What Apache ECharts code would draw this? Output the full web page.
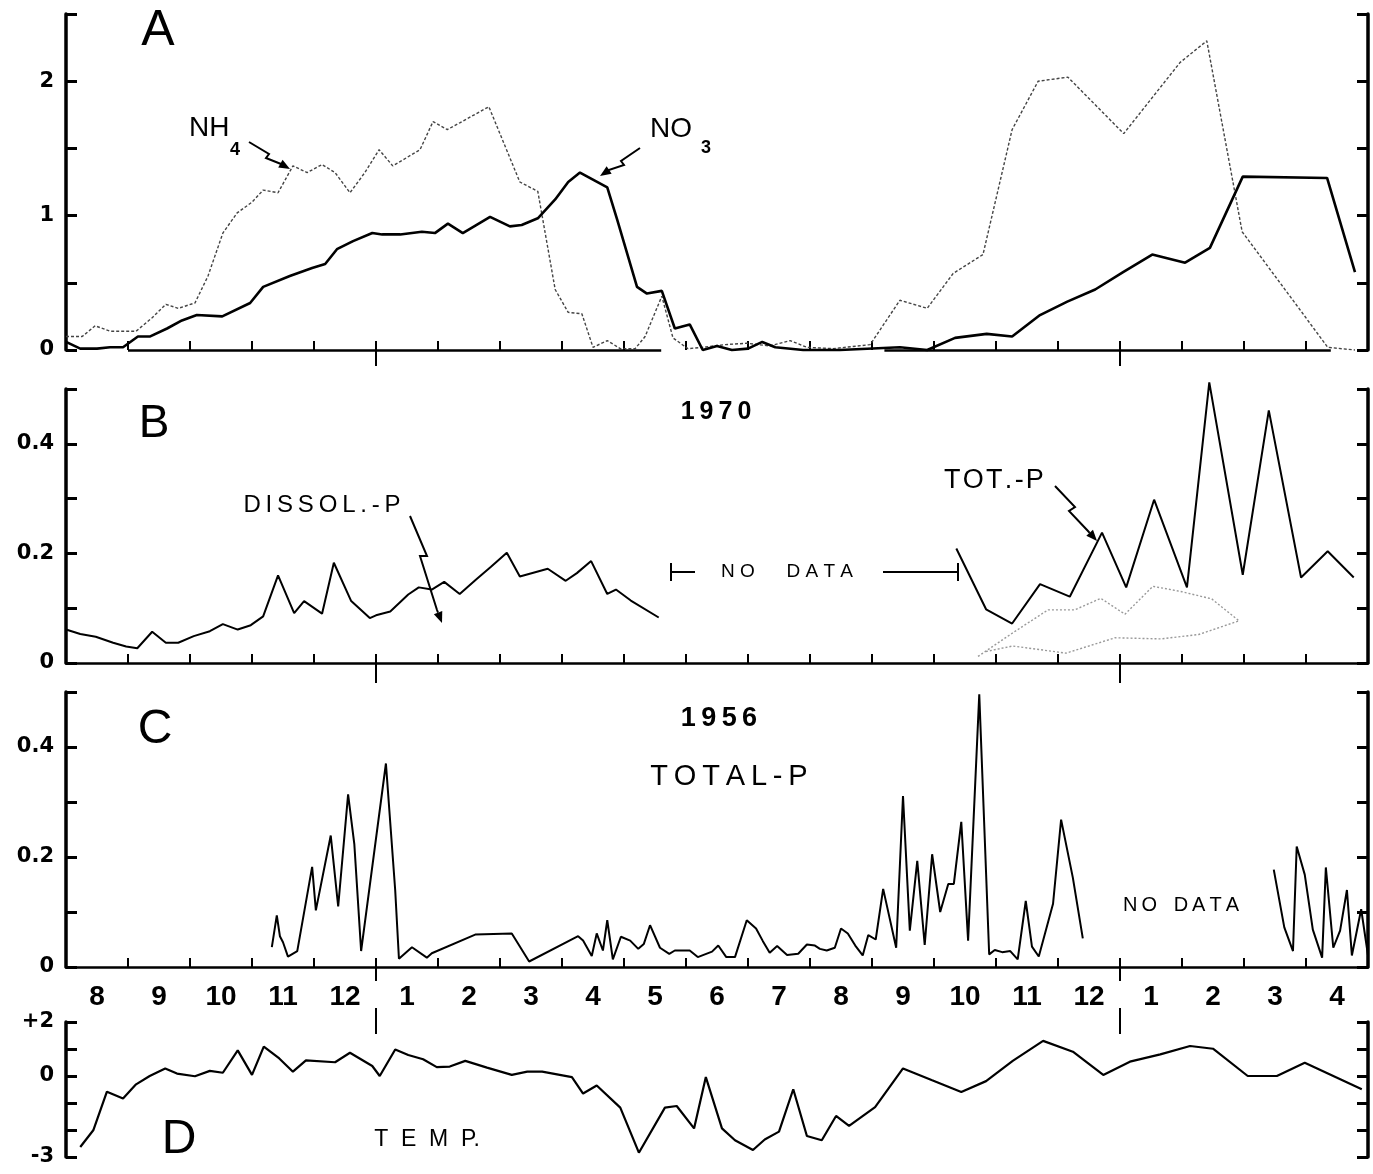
<!DOCTYPE html>
<html>
<head>
<meta charset="utf-8">
<script src="https://cdn.jsdelivr.net/npm/echarts@6/dist/echarts.min.js"></script>
<style>
  html, body { margin: 0; padding: 0; background: #fff; }
  #chart { width: 1373px; height: 1174px; }
</style>
</head>
<body>
<div id="chart"></div>
<script>
// x values are months counted from 1 Aug of the first year (0 .. 21)
const monthLabels = ['8', '9', '10', '11', '12', '1', '2', '3', '4', '5', '6', '7', '8', '9', '10', '11', '12', '1', '2', '3', '4']
const yearBreaks = [5, 17]

// A - NH4 and NO3
const nh4X = [0, 0.26, 0.47, 0.71, 1.13, 1.39, 1.61, 1.81, 2.08, 2.29, 2.53, 2.76, 3.00, 3.18, 3.42, 3.66, 3.89, 4.13, 4.34, 4.58, 4.82, 5.05, 5.27, 5.71, 5.92, 6.15, 6.35, 6.82, 7.32, 7.61, 7.89, 8.10, 8.32, 8.50, 8.73, 8.94, 9.18, 9.34, 9.61, 9.79, 10.03, 10.27, 10.63, 10.98, 11.35, 11.68, 11.95, 12.37, 12.97, 13.45, 13.89, 14.31, 14.79, 15.26, 15.68, 16.16, 17.06, 17.97, 18.40, 18.97, 19.87, 20.35, 20.79]
const nh4Y = [0.10, 0.10, 0.18, 0.14, 0.14, 0.24, 0.34, 0.31, 0.35, 0.55, 0.87, 1.02, 1.10, 1.19, 1.17, 1.37, 1.32, 1.38, 1.32, 1.17, 1.32, 1.49, 1.37, 1.49, 1.70, 1.64, 1.69, 1.81, 1.25, 1.18, 0.45, 0.28, 0.27, 0.02, 0.07, 0.01, 0.01, 0.10, 0.40, 0.09, 0.01, 0.02, 0.04, 0.05, 0.03, 0.07, 0.02, 0.01, 0.04, 0.37, 0.31, 0.57, 0.71, 1.64, 2.00, 2.03, 1.61, 2.14, 2.30, 0.88, 0.32, 0.02, 0.00]
const no3X = [0, 0.23, 0.50, 0.71, 0.92, 1.16, 1.35, 1.63, 1.87, 2.11, 2.52, 2.97, 3.18, 3.61, 3.97, 4.18, 4.37, 4.63, 4.94, 5.10, 5.39, 5.74, 5.95, 6.16, 6.40, 6.84, 7.16, 7.35, 7.61, 7.89, 8.10, 8.29, 8.73, 8.89, 9.21, 9.37, 9.61, 9.82, 10.06, 10.27, 10.50, 10.74, 11.00, 11.23, 11.44, 11.89, 12.48, 13.45, 13.89, 14.34, 14.85, 15.26, 15.71, 16.15, 16.60, 17.05, 17.52, 18.05, 18.45, 18.98, 20.34, 20.79]
const no3Y = [0.06, 0.01, 0.01, 0.02, 0.02, 0.10, 0.10, 0.16, 0.22, 0.26, 0.25, 0.35, 0.47, 0.55, 0.61, 0.64, 0.75, 0.81, 0.87, 0.86, 0.86, 0.88, 0.87, 0.94, 0.87, 0.99, 0.92, 0.93, 0.98, 1.12, 1.25, 1.32, 1.21, 0.97, 0.47, 0.42, 0.44, 0.16, 0.19, 0.00, 0.03, 0.00, 0.01, 0.06, 0.02, 0.00, 0.00, 0.02, 0.00, 0.09, 0.12, 0.10, 0.26, 0.36, 0.45, 0.58, 0.71, 0.65, 0.76, 1.29, 1.28, 0.58]
// stretches where the baseline of A is drawn
const aBaseSpans = [[1, 9.6], [13.2, 20.4]]

// B - 1970
const bTot1X = [0, 0.23, 0.48, 0.76, 0.97, 1.15, 1.39, 1.61, 1.81, 2.06, 2.32, 2.53, 2.77, 2.98, 3.18, 3.42, 3.68, 3.84, 4.13, 4.32, 4.60, 4.90, 5.00, 5.23, 5.52, 5.69, 5.90, 6.10, 6.35, 6.61, 6.85, 7.11, 7.32, 7.77, 8.06, 8.24, 8.47, 8.73, 8.87, 9.11, 9.56]
const bTot1Y = [0.061, 0.053, 0.048, 0.037, 0.030, 0.027, 0.057, 0.037, 0.037, 0.049, 0.058, 0.071, 0.061, 0.069, 0.085, 0.160, 0.091, 0.113, 0.090, 0.183, 0.113, 0.082, 0.087, 0.094, 0.125, 0.138, 0.134, 0.148, 0.126, 0.152, 0.175, 0.201, 0.158, 0.172, 0.150, 0.164, 0.186, 0.126, 0.134, 0.114, 0.083]
const bTot2X = [14.36, 14.84, 15.26, 15.71, 16.19, 16.71, 17.10, 17.55, 18.08, 18.44, 18.98, 19.40, 19.92, 20.35, 20.77]
const bTot2Y = [0.209, 0.098, 0.072, 0.144, 0.121, 0.238, 0.138, 0.298, 0.138, 0.512, 0.161, 0.461, 0.156, 0.204, 0.156]
const dissolX = [14.71, 15.27, 15.84, 16.27, 16.69, 17.08, 17.53, 18.00, 18.48, 18.92, 18.27, 17.66, 16.92, 16.13, 15.27, 14.84]
const dissolY = [0.012, 0.055, 0.097, 0.097, 0.118, 0.089, 0.140, 0.130, 0.117, 0.077, 0.052, 0.044, 0.046, 0.018, 0.031, 0.021]

// C - 1956 total P
const cTot1X = [3.32, 3.40, 3.45, 3.50, 3.58, 3.73, 3.97, 4.03, 4.27, 4.39, 4.55, 4.65, 4.76, 5.16, 5.31, 5.37, 5.58, 5.82, 5.90, 6.60, 7.19, 7.47, 8.26, 8.34, 8.48, 8.56, 8.66, 8.73, 8.82, 8.95, 9.10, 9.23, 9.32, 9.42, 9.58, 9.73, 9.82, 10.06, 10.19, 10.42, 10.52, 10.65, 10.79, 10.98, 11.13, 11.24, 11.35, 11.47, 11.63, 11.81, 11.95, 12.08, 12.16, 12.27, 12.40, 12.50, 12.61, 12.73, 12.85, 12.94, 13.06, 13.18, 13.39, 13.50, 13.61, 13.73, 13.85, 13.97, 14.10, 14.23, 14.32, 14.44, 14.55, 14.73, 14.89, 14.98, 15.10, 15.23, 15.35, 15.48, 15.58, 15.69, 15.92, 16.05, 16.24, 16.40]
const cTot1Y = [0.036, 0.094, 0.056, 0.045, 0.019, 0.029, 0.182, 0.103, 0.239, 0.11, 0.314, 0.224, 0.029, 0.37, 0.139, 0.015, 0.036, 0.017, 0.025, 0.059, 0.061, 0.010, 0.056, 0.048, 0.020, 0.061, 0.030, 0.085, 0.014, 0.055, 0.048, 0.033, 0.042, 0.076, 0.035, 0.024, 0.030, 0.030, 0.018, 0.028, 0.039, 0.018, 0.018, 0.085, 0.070, 0.047, 0.026, 0.038, 0.022, 0.024, 0.041, 0.039, 0.033, 0.030, 0.035, 0.070, 0.061, 0.039, 0.021, 0.058, 0.050, 0.142, 0.035, 0.311, 0.066, 0.193, 0.040, 0.205, 0.100, 0.151, 0.151, 0.264, 0.048, 0.496, 0.023, 0.031, 0.027, 0.029, 0.014, 0.120, 0.037, 0.019, 0.115, 0.268, 0.162, 0.052]
const cTot2X = [19.48, 19.65, 19.79, 19.85, 19.98, 20.11, 20.26, 20.32, 20.44, 20.55, 20.66, 20.74, 20.89, 21.00]
const cTot2Y = [0.177, 0.072, 0.029, 0.219, 0.168, 0.068, 0.017, 0.181, 0.035, 0.066, 0.140, 0.021, 0.105, 0.021]

// D - temperature
const tempX = [0.23, 0.44, 0.66, 0.92, 1.13, 1.35, 1.60, 1.79, 2.08, 2.32, 2.53, 2.77, 3.00, 3.19, 3.44, 3.66, 3.87, 4.34, 4.58, 4.94, 5.06, 5.31, 5.52, 5.76, 5.98, 6.19, 6.44, 6.79, 7.19, 7.44, 7.68, 8.16, 8.34, 8.56, 8.94, 9.24, 9.66, 9.85, 10.13, 10.32, 10.58, 10.79, 11.08, 11.27, 11.50, 11.73, 11.95, 12.19, 12.42, 12.63, 13.05, 13.50, 13.97, 14.44, 14.84, 15.27, 15.76, 16.24, 16.73, 17.16, 17.65, 18.13, 18.50, 19.06, 19.53, 19.98, 20.90]
const tempY = [-2.63, -2.01, -0.58, -0.83, -0.31, 0.00, 0.28, 0.09, -0.01, 0.19, 0.12, 0.95, 0.04, 1.09, 0.65, 0.16, 0.58, 0.51, 0.86, 0.37, 0.00, 0.98, 0.78, 0.62, 0.33, 0.35, 0.56, 0.31, 0.04, 0.16, 0.16, -0.04, -0.65, -0.35, -1.17, -2.84, -1.17, -1.11, -1.94, -0.04, -1.94, -2.38, -2.74, -2.35, -2.06, -0.49, -2.22, -2.38, -1.48, -1.85, -1.15, 0.28, -0.16, -0.59, -0.19, 0.56, 1.30, 0.90, 0.04, 0.53, 0.80, 1.11, 1.01, 0.00, 0.00, 0.49, -0.49]

const FONT = "'Liberation Sans', Arial, sans-serif"
const NUMFONT = "'DejaVu Sans', sans-serif"
const pts = (xs, ys) => xs.map((x, i) => [x, ys[i]])

const grids = [
    { left: 66, right: 5, top: 14, height: 336 },
    { left: 66, right: 5, top: 389, height: 274 },
    { left: 66, right: 5, top: 692, height: 275 },
    { left: 66, right: 5, top: 1022, height: 135 }
]
const yRange = [[0, 2.5, 0.5], [0, 0.5, 0.1], [0, 0.5, 0.1], [-3, 2, 1]]
const pFormat = v => { const k = Math.round(v * 10); return k === 0 ? '0' : (k === 2 || k === 4 ? '0.' + k : '') }
const yFormat = [
    v => Math.abs(v - Math.round(v)) < 1e-6 ? String(Math.round(v)) : '',
    pFormat,
    pFormat,
    v => v === 2 ? '+2' : v === 0 ? '0' : v === -3 ? '-3' : ''
]

const xAxes = []
grids.forEach((g, i) => {
    xAxes.push({
        type: 'value', gridIndex: i, min: 0, max: 21, interval: 1, position: 'bottom',
        axisLine: { show: i === 1 || i === 2, onZero: false, lineStyle: { color: '#000', width: 2.5 } },
        axisTick: { show: i < 3, inside: true, length: 9, lineStyle: { color: '#000', width: 2 } },
        axisLabel: i === 2 ? {
            show: true,
            customValues: monthLabels.map((m, k) => k + 0.5),
            formatter: v => monthLabels[Math.floor(v)],
            color: '#000', fontSize: 28, fontWeight: 'bold', fontFamily: FONT, margin: 16
        } : { show: false },
        splitLine: { show: false }
    })
})
grids.forEach((g, i) => {
    // year boundary marks
    xAxes.push({
        type: 'value', gridIndex: i, min: 0, max: 21,
        position: i === 3 ? 'top' : 'bottom', offset: i === 3 ? -12 : 0,
        axisLine: { show: false, onZero: false },
        axisLabel: { show: false },
        splitLine: { show: false },
        axisTick: { show: true, customValues: yearBreaks, inside: false, length: [16, 20, 14, 26][i], lineStyle: { color: '#000', width: 2 } }
    })
})

const yAxes = []
grids.forEach((g, i) => {
    ['left', 'right'].forEach(pos => {
        yAxes.push({
            type: 'value', gridIndex: i, position: pos,
            min: yRange[i][0], max: yRange[i][1], interval: yRange[i][2],
            axisLine: { show: true, onZero: false, lineStyle: { color: '#000', width: 3.5 } },
            axisTick: { show: true, inside: true, length: 11, lineStyle: { color: '#000', width: 3 } },
            axisLabel: pos === 'left' ? {
                formatter: yFormat[i], color: '#000', fontSize: 21, fontWeight: 'bold', fontFamily: NUMFONT, margin: 12
            } : { show: false },
            splitLine: { show: false }
        })
    })
})

const line = (name, xs, ys, g, style) => ({
    name, type: 'line', xAxisIndex: g, yAxisIndex: g * 2,
    data: pts(xs, ys), symbol: 'none', clip: false, animation: false,
    lineStyle: Object.assign({ color: '#000', width: 2 }, style)
})

const no3 = line('NO3', no3X, no3Y, 0, { width: 2.6 })
no3.markLine = {
    silent: true, symbol: 'none', animation: false, label: { show: false },
    lineStyle: { color: '#000', width: 2.5, type: 'solid' },
    data: aBaseSpans.map(s => [{ coord: [s[0], 0] }, { coord: [s[1], 0] }])
}

const series = [
    line('NH4', nh4X, nh4Y, 0, { width: 1.4, color: '#444', type: [3, 2] }),
    no3,
    line('TOT-P 1970 a', bTot1X, bTot1Y, 1, { width: 2 }),
    line('TOT-P 1970 b', bTot2X, bTot2Y, 1, { width: 2 }),
    line('DISSOL-P', dissolX, dissolY, 1, { width: 1.4, color: '#999', type: [2, 2] }),
    line('TOTAL-P 1956 a', cTot1X, cTot1Y, 2, { width: 2 }),
    line('TOTAL-P 1956 b', cTot2X, cTot2Y, 2, { width: 2 }),
    line('TEMP', tempX, tempY, 3, { width: 2.2 })
]

// annotation helpers
const txt = (text, x, y, size, weight, align) => ({
    type: 'text', x, y, silent: true,
    style: {
        text, fill: '#000', font: (weight || 'normal') + ' ' + size + 'px ' + FONT,
        textAlign: align || 'center', textVerticalAlign: 'middle'
    }
})
const seg = (x1, y1, x2, y2, w) => ({
    type: 'line', silent: true, shape: { x1, y1, x2, y2 }, style: { stroke: '#000', lineWidth: w || 2 }
})
function arrow(points, tip) {
    const last = points[points.length - 1]
    const a = Math.atan2(tip[1] - last[1], tip[0] - last[0])
    const L = 11, W = 4.5
    const bx = tip[0] - L * Math.cos(a), by = tip[1] - L * Math.sin(a)
    return [
        { type: 'polyline', silent: true, shape: { points: points.concat([[bx, by]]) }, style: { stroke: '#000', lineWidth: 2, fill: null } },
        { type: 'polygon', silent: true, shape: { points: [tip, [bx - W * Math.sin(a), by + W * Math.cos(a)], [bx + W * Math.sin(a), by - W * Math.cos(a)]] }, style: { fill: '#000' } }
    ]
}

const graphics = [
    txt('A', 158, 31, 50),
    txt('B', 154, 424, 46),
    txt('C', 155, 730, 48),
    txt('D', 179, 1140, 48),
    txt('NH', 189, 128, 28, 'normal', 'left'),
    txt('4', 230, 150, 18, 'bold', 'left'),
    txt('NO', 650, 129, 28, 'normal', 'left'),
    txt('3', 701, 148, 18, 'bold', 'left'),
    txt('1\u20099\u20097\u20090', 716, 412, 25, 'bold'),
    txt('D\u2009I\u2009S\u2009S\u2009O\u2009L\u2009.\u2009-\u2009P', 322, 505, 24),
    txt('T\u200AO\u200AT\u200A.\u200A-\u200AP', 994, 481, 27),
    txt('N O      D A T A', 787, 572, 19),
    seg(671, 563, 671, 581), seg(671, 572, 695, 572),
    seg(883, 572, 958, 572), seg(958, 563, 958, 581),
    txt('1\u20099\u20095\u20096', 719, 719, 27, 'bold'),
    txt('T\u2009O\u2009T\u2009A\u2009L\u2009-\u2009P', 729, 777, 29),
    txt('N\u2009O   D\u2009A\u2009T\u2009A', 1181, 905, 20),
    txt('T  E  M  P.', 427, 1140, 23)
].concat(
    arrow([[249, 142], [269, 154], [266, 158], [281, 164]], [290, 169]),
    arrow([[640, 148], [621, 161], [624, 165], [609, 170]], [600, 176]),
    arrow([[410, 516], [427, 556], [420, 556], [437, 610]], [442, 623]),
    arrow([[1055, 486], [1075, 507], [1069, 511], [1088, 531]], [1097, 541])
)

const chart = echarts.init(document.getElementById('chart'))
chart.setOption({
    backgroundColor: '#fff',
    animation: false,
    grid: grids,
    xAxis: xAxes,
    yAxis: yAxes,
    series,
    graphic: graphics
})
</script>
</body>
</html>
